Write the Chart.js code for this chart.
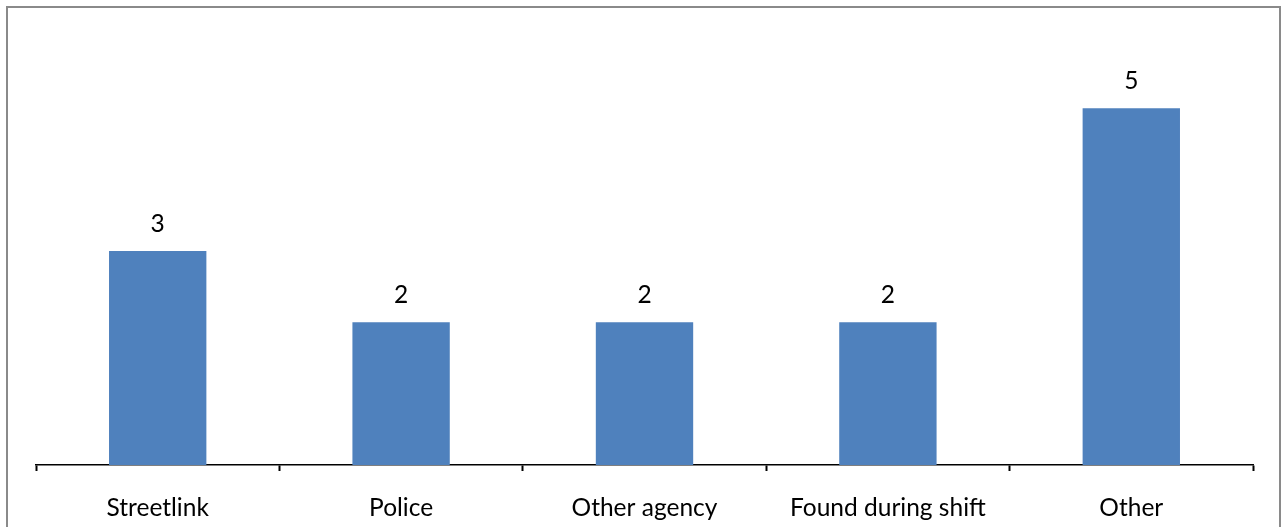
<!DOCTYPE html>
<html>
<head>
<meta charset="utf-8">
<script src="https://cdn.jsdelivr.net/npm/chart.js@4.4.1/dist/chart.umd.min.js"></script>
<style>
  html, body { margin: 0; padding: 0; background: #ffffff; }
  #wrap { width: 1285px; height: 527px; position: relative; }
</style>
</head>
<body>
<div id="wrap"><canvas id="chart" width="1285" height="527"></canvas></div>
<script>
// Referral sources and counts
const categories = ['Streetlink', 'Police', 'Other agency', 'Found during shift', 'Other'];
const referrals = [3, 2, 2, 2, 5];
const yMin = 0;
const yMax = 6;

const FONT = 'Lato, "Open Sans", sans-serif';
const FONT_SIZE = 24.5;

// Outer frame around the whole chart
const framePlugin = {
  id: 'frame',
  beforeDraw(chart) {
    const ctx = chart.ctx;
    ctx.save();
    ctx.fillStyle = '#ffffff';
    ctx.fillRect(0, 0, chart.width, chart.height);
    ctx.strokeStyle = '#8a8a8a';
    ctx.lineWidth = 2;
    ctx.strokeRect(7, 7, 1273, 540);
    ctx.restore();
  }
};

// Value printed above each bar
const valueLabels = {
  id: 'valueLabels',
  afterDatasetsDraw(chart) {
    const ctx = chart.ctx;
    const meta = chart.getDatasetMeta(0);
    const data = chart.data.datasets[0].data;
    ctx.save();
    ctx.font = FONT_SIZE + 'px ' + FONT;
    ctx.fillStyle = '#000000';
    ctx.textAlign = 'center';
    ctx.textBaseline = 'alphabetic';
    meta.data.forEach((bar, i) => {
      ctx.fillText(String(data[i]), bar.x, bar.y - 19);
    });
    ctx.restore();
  }
};

new Chart(document.getElementById('chart'), {
  type: 'bar',
  data: {
    labels: categories,
    datasets: [{
      data: referrals,
      backgroundColor: '#4F81BD',
      borderWidth: 0,
      barPercentage: 0.4,
      categoryPercentage: 1.0
    }]
  },
  options: {
    responsive: false,
    animation: false,
    devicePixelRatio: 1,
    layout: { padding: { left: 36, right: 32, top: 37, bottom: 0 } },
    plugins: {
      legend: { display: false },
      tooltip: { enabled: false }
    },
    scales: {
      x: {
        offset: true,
        afterFit(scale) { scale.height = 62; },
        grid: {
          display: true,
          offset: true,
          drawOnChartArea: false,
          drawTicks: true,
          tickLength: 6,
          tickWidth: 2,
          tickColor: '#000000'
        },
        border: { display: true, color: '#000000', width: 1.5 },
        ticks: {
          color: '#000000',
          padding: 22,
          maxRotation: 0,
          autoSkip: false,
          font: { family: FONT, size: FONT_SIZE }
        }
      },
      y: {
        display: false,
        min: yMin,
        max: yMax
      }
    }
  },
  plugins: [framePlugin, valueLabels]
});
</script>
</body>
</html>
